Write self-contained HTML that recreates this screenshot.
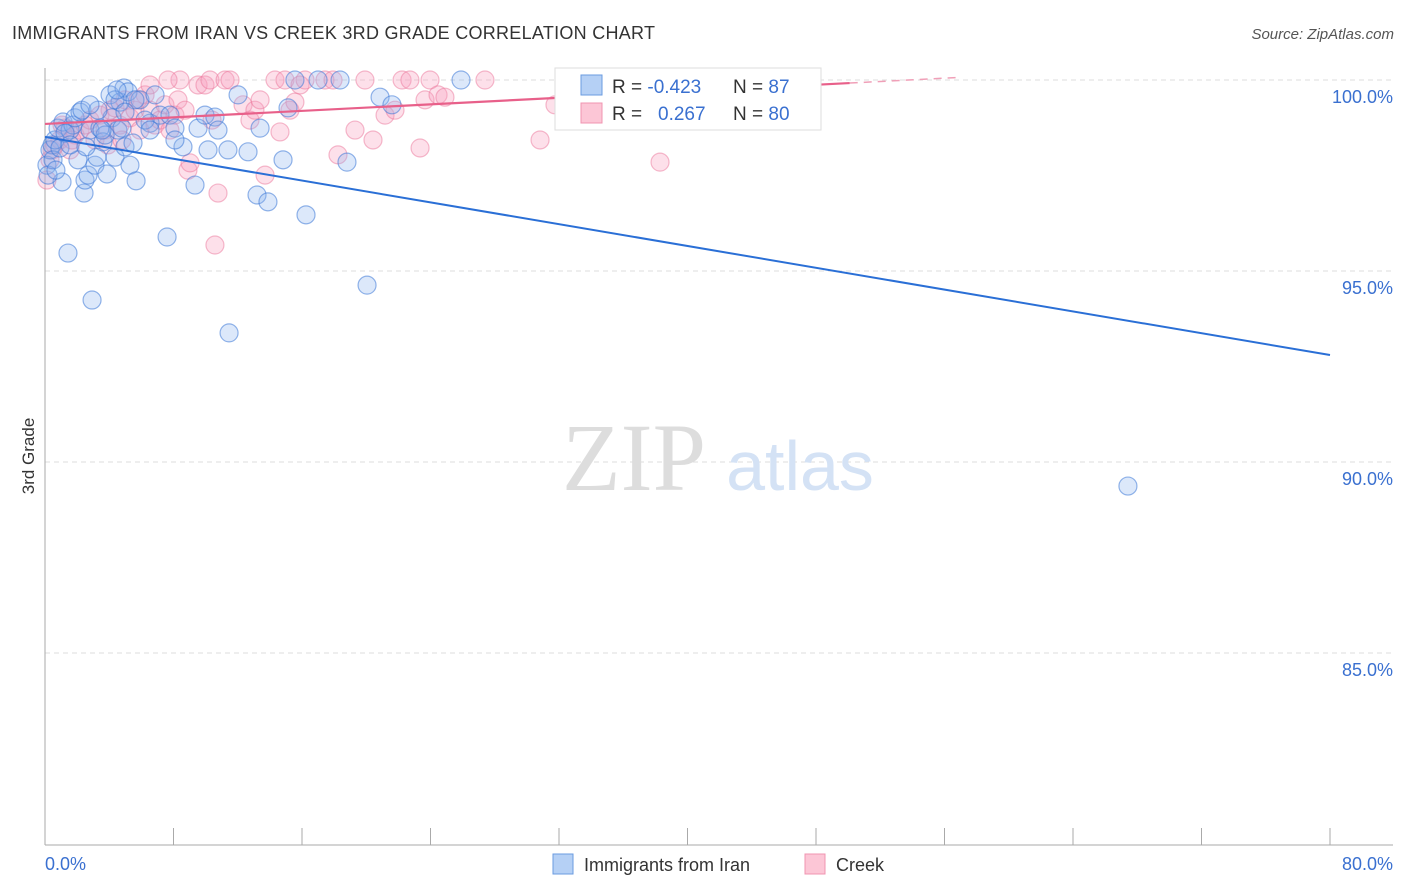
<!DOCTYPE html>
<html><head><meta charset="utf-8"><style>
body{margin:0;background:#fff;font-family:"Liberation Sans",sans-serif}
svg{display:block}
</style></head><body>
<svg width="1406" height="892">
<text x="12" y="39" font-size="18" fill="#333" textLength="643">IMMIGRANTS FROM IRAN VS CREEK 3RD GRADE CORRELATION CHART</text>
<text x="1394" y="39" font-size="15" fill="#555" font-style="italic" text-anchor="end">Source: ZipAtlas.com</text>
<g id="grid"></g>
<text x="634" y="490" font-size="96" fill="#ddd" font-family="Liberation Serif" text-anchor="middle">ZIP</text>
<text x="800" y="490" font-size="70" fill="#d4e2f5" text-anchor="middle">atlas</text>
<g id="pts"></g>
<g id="lines"></g>
<text x="34" y="456" font-size="17" fill="#333" transform="rotate(-90 34 456)" text-anchor="middle">3rd Grade</text>
<text x="45" y="870" font-size="18" fill="#3a70d0">0.0%</text>
<text x="1393" y="870" font-size="18" fill="#3a70d0" text-anchor="end">80.0%</text>
<g>
<rect x="555" y="68" width="266" height="62" fill="#fff" stroke="#ddd"/>
<rect x="581" y="75" width="21" height="20" fill="#b5d0f5" stroke="#6a9be0"/>
<rect x="581" y="103" width="21" height="20" fill="#fcc6d6" stroke="#f094b0"/>
<text x="612" y="93" font-size="19" fill="#333">R = <tspan fill="#3a70d0">-0.423</tspan><tspan x="733">N = </tspan><tspan fill="#3a70d0">87</tspan></text>
<text x="612" y="120" font-size="19" fill="#333">R = <tspan x="658" fill="#3a70d0">0.267</tspan><tspan x="733">N = </tspan><tspan fill="#3a70d0">80</tspan></text>
</g>
<g><rect x="553" y="854" width="20" height="20" fill="#b5d0f5" stroke="#6a9be0"/><text x="584" y="871" font-size="18" fill="#333">Immigrants from Iran</text></g>
<g><rect x="805" y="854" width="20" height="20" fill="#fcc6d6" stroke="#f094b0"/><text x="836" y="871" font-size="18" fill="#333">Creek</text></g>
</svg>
<script>
const yTicks=[100,95,90,85];
const yTickLabels=["100.0%","95.0%","90.0%","85.0%"];
const bluePx=[[47,165],[50,150],[52,145],[55,140],[58,128],[62,182],[63,122],[68,253],[70,130],[73,125],[75,118],[78,160],[80,112],[82,110],[84,193],[85,180],[88,175],[90,130],[92,300],[95,165],[97,157],[100,128],[103,142],[105,135],[107,174],[110,95],[112,118],[115,157],[118,130],[120,102],[122,128],[124,88],[125,147],[128,92],[130,165],[133,143],[136,181],[140,100],[150,123],[155,95],[160,115],[167,237],[170,115],[175,128],[183,147],[195,185],[198,128],[205,115],[208,150],[215,117],[218,130],[228,150],[229,333],[238,95],[248,152],[257,195],[260,128],[268,202],[283,160],[288,108],[295,80],[306,215],[318,80],[340,80],[347,162],[367,285],[380,97],[392,105],[461,80],[1128,486],[48,175],[53,160],[60,148],[65,133],[98,110],[115,100],[117,90],[135,100],[145,120],[70,145],[90,105],[102,130],[125,112],[56,170],[86,147],[150,130],[175,140]];
const pinkPx=[[47,180],[50,160],[52,150],[55,145],[60,140],[65,128],[70,150],[75,135],[80,130],[85,125],[90,120],[95,140],[100,115],[105,130],[110,110],[115,108],[120,125],[125,100],[130,118],[135,110],[140,130],[145,95],[150,110],[155,125],[160,120],[165,105],[170,130],[175,115],[178,100],[180,80],[185,110],[188,170],[190,163],[198,85],[205,85],[210,80],[215,245],[218,193],[225,80],[230,80],[243,105],[250,120],[255,110],[265,175],[275,80],[280,132],[285,80],[290,110],[295,102],[300,85],[305,80],[325,80],[333,80],[338,155],[355,130],[365,80],[373,140],[385,115],[395,110],[402,80],[410,80],[420,148],[425,100],[430,80],[438,95],[445,97],[485,80],[540,140],[555,105],[660,162],[760,80],[62,125],[72,140],[108,145],[122,140],[138,100],[168,80],[212,120],[260,100],[150,85]];
const toData=p=>[+((p[0]-45)*80/1285).toFixed(2),+(100-(p[1]-80)/38.2).toFixed(2)];
const blueX=bluePx.map(p=>toData(p)[0]), blueY=bluePx.map(p=>toData(p)[1]);
const pinkX=pinkPx.map(p=>toData(p)[0]), pinkY=pinkPx.map(p=>toData(p)[1]);
const blueTrend=[[0,98.51],[80,92.8]];
const pinkTrend=[[0,98.85],[50.1,99.92]];
const pinkTrendExt=[[50.1,99.92],[57,100.07]];
const X=v=>45+v/80*1285, Y=v=>80+(100-v)*38.2;
const NS="http://www.w3.org/2000/svg";
function mk(t,a,parent){const e=document.createElementNS(NS,t);for(const k in a)e.setAttribute(k,a[k]);parent.appendChild(e);return e;}
const grid=document.getElementById('grid');
yTicks.forEach((t,i)=>{
 const l=mk('line',{x1:45,x2:1393,y1:Y(t),y2:Y(t),stroke:'#ddd','stroke-dasharray':'5,4'},grid);
 
 
 const tx=mk('text',{x:1393,y:Y(t)+23,'font-size':18,fill:'#3a70d0','text-anchor':'end'},grid);
 tx.textContent=yTickLabels[i];
 
 
});
const ax=mk('line',{x1:45,x2:45,y1:68,y2:845,stroke:'#aaa'},grid);


const xa=mk('line',{x1:45,x2:1393,y1:845,y2:845,stroke:'#aaa'},grid);


for(let k=0;k<=10;k++){const v=k*8;const t=mk('line',{x1:X(v),x2:X(v),y1:828,y2:845,stroke:'#aaa'},grid);
 
 }
const pts=document.getElementById('pts');
pinkX.forEach((x,i)=>{const c=mk('circle',{cx:X(x),cy:Y(pinkY[i]),r:9,fill:'rgba(248,160,190,0.32)',stroke:'rgba(235,120,155,0.5)','stroke-width':1.2},pts);
 
 });
blueX.forEach((x,i)=>{const c=mk('circle',{cx:X(x),cy:Y(blueY[i]),r:9,fill:'rgba(140,180,240,0.3)',stroke:'rgba(60,120,215,0.55)','stroke-width':1.2},pts);
 
 });
const lines=document.getElementById('lines');
const b=mk('line',{x1:X(blueTrend[0][0]),y1:Y(blueTrend[0][1]),x2:X(blueTrend[1][0]),y2:Y(blueTrend[1][1]),stroke:'#2a6fd6','stroke-width':2},lines);


const p=mk('line',{x1:X(pinkTrend[0][0]),y1:Y(pinkTrend[0][1]),x2:X(pinkTrend[1][0]),y2:Y(pinkTrend[1][1]),stroke:'#e8608a','stroke-width':2.2},lines);


const pe=mk('line',{x1:X(pinkTrendExt[0][0]),y1:Y(pinkTrendExt[0][1]),x2:X(pinkTrendExt[1][0]),y2:Y(pinkTrendExt[1][1]),stroke:'#f0a0b8','stroke-width':1.5,'stroke-dasharray':'8,6'},lines);


</script>
</body></html>
